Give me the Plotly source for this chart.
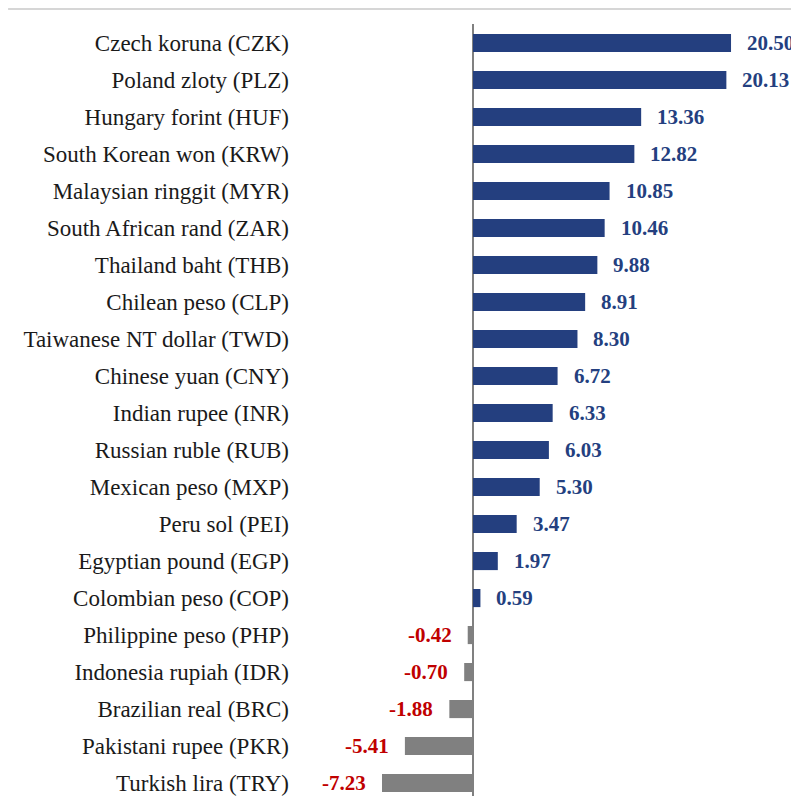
import plotly.graph_objects as go

# Data
currencies = [
    "Czech koruna (CZK)", "Poland zloty (PLZ)", "Hungary forint (HUF)",
    "South Korean won (KRW)", "Malaysian ringgit (MYR)", "South African rand (ZAR)",
    "Thailand baht (THB)", "Chilean peso (CLP)", "Taiwanese NT dollar (TWD)",
    "Chinese yuan (CNY)", "Indian rupee (INR)", "Russian ruble (RUB)",
    "Mexican peso (MXP)", "Peru sol (PEI)", "Egyptian pound (EGP)",
    "Colombian peso (COP)", "Philippine peso (PHP)", "Indonesia rupiah (IDR)",
    "Brazilian real (BRC)", "Pakistani rupee (PKR)", "Turkish lira (TRY)",
]
changes = [20.50, 20.13, 13.36, 12.82, 10.85, 10.46, 9.88, 8.91, 8.30, 6.72,
           6.33, 6.03, 5.30, 3.47, 1.97, 0.59, -0.42, -0.70, -1.88, -5.41, -7.23]

BLUE = "#243f7f"
GRAY = "#808080"
RED = "#c00000"
FONT = "Liberation Serif"

bar_colors = [BLUE if v >= 0 else GRAY for v in changes]

fig = go.Figure()
fig.add_trace(go.Bar(
    x=changes,
    y=currencies,
    orientation="h",
    marker=dict(color=bar_colors, line=dict(width=0)),
    hoverinfo="x+y",
))

# value labels
for name, v in zip(currencies, changes):
    fig.add_annotation(
        x=v, y=name, text=f"<b>{v:.2f}</b>", showarrow=False,
        xanchor="left" if v >= 0 else "right",
        xshift=14 if v >= 0 else -14,
        font=dict(family=FONT, size=21, color=BLUE if v >= 0 else RED),
    )

# thin rule across the top
fig.add_shape(type="line", xref="paper", yref="paper",
              x0=-0.56, x1=1.0, y0=1.0194, y1=1.0194,
              line=dict(color="#c8c8c8", width=1.5))

# page body adds an 8px margin, so the figure is 8px smaller than the window
fig.update_layout(
    width=791, height=788,
    margin=dict(l=284, r=0, t=16, b=0),
    plot_bgcolor="white", paper_bgcolor="white",
    bargap=0.51,
    showlegend=False,
    font=dict(family=FONT, size=23, color="#1a1a1a"),
)
fig.update_xaxes(range=[-14.38, 25.90], showgrid=False, showticklabels=False,
                 zeroline=True, zerolinecolor=GRAY, zerolinewidth=1.5)
fig.update_yaxes(autorange=False, range=[20.35, -0.514], showgrid=False,
                 ticks="", ticklabelstandoff=2)

fig.write_html("out.html")
